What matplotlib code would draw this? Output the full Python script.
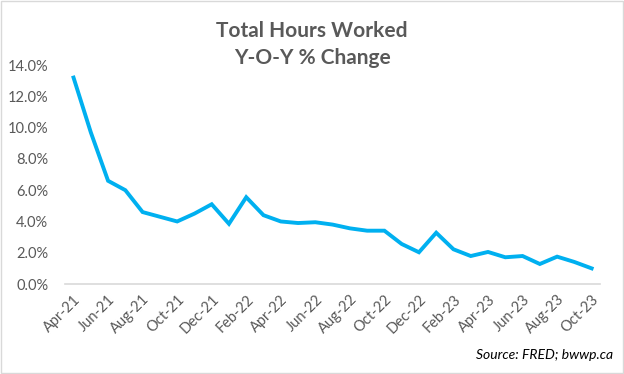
import numpy as np
import matplotlib as mpl
import matplotlib.pyplot as plt
from matplotlib.ticker import PercentFormatter

mpl.rcParams['font.family'] = ['Lato', 'DejaVu Sans']

# monthly y-o-y % change, Apr-21 .. Oct-23
months = ['Apr-21', 'May-21', 'Jun-21', 'Jul-21', 'Aug-21', 'Sep-21', 'Oct-21',
          'Nov-21', 'Dec-21', 'Jan-22', 'Feb-22', 'Mar-22', 'Apr-22', 'May-22',
          'Jun-22', 'Jul-22', 'Aug-22', 'Sep-22', 'Oct-22', 'Nov-22', 'Dec-22',
          'Jan-23', 'Feb-23', 'Mar-23', 'Apr-23', 'May-23', 'Jun-23', 'Jul-23',
          'Aug-23', 'Sep-23', 'Oct-23']
hours_yoy = [13.2, 9.7, 6.6, 6.0, 4.6, 4.3, 4.0, 4.5, 5.1, 3.85, 5.55, 4.4,
             4.0, 3.9, 3.95, 3.8, 3.56, 3.41, 3.41, 2.56, 2.03, 3.28, 2.22,
             1.79, 2.05, 1.71, 1.79, 1.28, 1.75, 1.41, 1.0]

GREY = '#595959'

fig = plt.figure(figsize=(6.24, 3.74), dpi=100)
ax = fig.add_axes([0.104, 0.2406, 0.858, 0.5854])

x = np.arange(len(months))
ax.plot(x, hours_yoy, color='#00B0F0', lw=2.8, solid_joinstyle='miter')

ax.set_xlim(-0.5, len(months) - 0.5)
ax.set_ylim(0, 14)
ax.set_yticks(np.arange(0, 14.1, 2))
ax.yaxis.set_major_formatter(PercentFormatter(decimals=1))
ax.set_xticks(x[::2])
ax.set_xticklabels(months[::2], rotation=45, ha='right', rotation_mode='anchor')

for s in ['top', 'right', 'left']:
    ax.spines[s].set_visible(False)
ax.spines['bottom'].set_color('#D9D9D9')
ax.spines['bottom'].set_linewidth(1.2)
ax.tick_params(axis='y', length=0, pad=12, labelsize=10.5, labelcolor=GREY)
ax.tick_params(axis='x', length=0, pad=6, labelsize=10.5, labelcolor=GREY)

fig.text(0.5, 0.882, 'Total Hours Worked\nY-O-Y % Change', ha='center', va='center',
         fontsize=15, fontweight='bold', color=GREY, linespacing=1.45)
fig.text(0.982, 0.05, 'Source: FRED; bwwp.ca', ha='right', va='center',
         fontsize=10, style='italic', color='black')

fig.patches.append(mpl.patches.Rectangle((0.002, 0.002), 0.996, 0.996,
                   transform=fig.transFigure, fill=False, edgecolor='#D9D9D9', lw=1))

fig.savefig('out.png', dpi=100)
